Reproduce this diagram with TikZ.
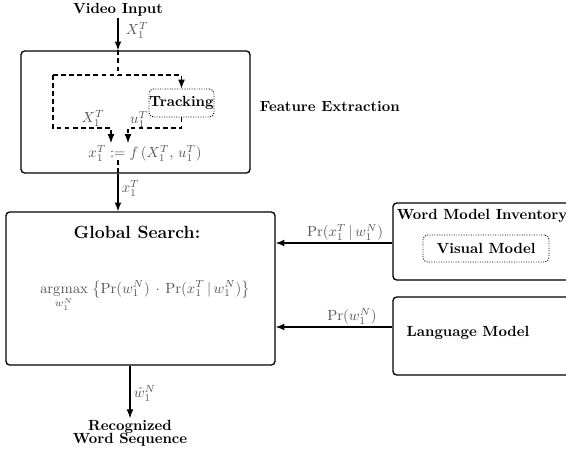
\documentclass[tikz,border=0pt]{standalone}
\usetikzlibrary{arrows.meta,calc}
\definecolor{mathgray}{gray}{0.33}
\def\pxu{0.68pt}
\begin{document}
\begin{tikzpicture}[x=\pxu,y=-\pxu,
  box/.style={draw,rounded corners=2.5pt,line width=0.9pt,inner sep=0pt},
  subbox/.style={draw,densely dotted,rounded corners=3pt,line width=0.65pt,inner sep=0pt,font=\bfseries},
  arr/.style={line width=0.75pt,-{Latex[length=6pt,width=4.6pt]}},
  dsh/.style={line width=0.75pt,dash pattern=on 3.2pt off 2.3pt},
  darr/.style={dsh,-{Latex[length=6pt,width=4.6pt]}},
  lbl/.style={text=mathgray,inner sep=1pt},
  title/.style={font=\bfseries,inner sep=1pt}]
\clip (0,0) rectangle (566,452);

% main blocks
\node[box,minimum width=229*\pxu,minimum height=122*\pxu] (feat) at (135.5,112) {};
\node[box,minimum width=269*\pxu,minimum height=153*\pxu] (gs) at (140.5,288.5) {};
\node[box,minimum width=187*\pxu,minimum height=77*\pxu] (wmi) at (486.5,241.5) {};
\node[box,minimum width=187*\pxu,minimum height=78*\pxu] (lm) at (486.5,336) {};

% inner components
\node[subbox,minimum width=65*\pxu,minimum height=28*\pxu] (track) at (181.5,103) {Tracking};
\node[subbox,minimum width=126*\pxu,minimum height=27*\pxu] (vis) at (486,248.5) {Visual Model};

% titles
\node[title] (vin) at (118,10) {Video Input};
\node[title,anchor=west] (fetitle) at (258,107) {Feature Extraction};
\node[title,font=\large\bfseries] (gstitle) at (137,232) {Global Search:};
\node[title] (wmititle) at (482,216) {Word Model Inventory};
\node[title] (lmtitle) at (468,333) {Language Model};
\node[title,align=center] (rec) at (130,433) {Recognized\\[-3.2pt]Word Sequence};

% formulas
\node[lbl] (fx) at (145,153) {$x_1^T := f\,(X_1^T,\, u_1^T)$};
\node[lbl] (argmax) at (145,296) {$\displaystyle\mathop{\mathrm{argmax}}\limits_{w_1^N}\;\bigl\{\Pr(w_1^N)\,\cdot\,\Pr(x_1^T\,|\,w_1^N)\bigr\}$};

% dashed routing inside feature extraction
\coordinate (dtop) at (118,75);
\coordinate (dleft) at (53,75);
\coordinate (dright) at (181.5,75);
\coordinate (dlb) at (53,128);
\coordinate (dxa) at (111,128);
\coordinate (dxe) at (111,143);
\coordinate (dtb) at (181.5,128);
\coordinate (dua) at (128,128);
\coordinate (due) at (128,143);
\coordinate (fxb) at (118,160);

\draw[arr] (vin.south -| dtop) -- (feat.north -| dtop);
\draw[dsh] (feat.north -| dtop) -- (dtop);
\draw[darr] (dleft) -- (dright) -- (track.north);
\draw[darr] (dleft) -- (dlb) -- (dxa) -- (dxe);
\draw[darr] (track.south) -- (dtb) -- (dua) -- (due);
\draw[dsh] (fxb) -- (feat.south -| fxb);
\draw[arr] (feat.south -| fxb) -- (gs.north -| fxb);

% probabilities into the search
\draw[arr] (wmi.west |- 0,243) -- (gs.east |- 0,243);
\draw[arr] (lm.west |- 0,327) -- (gs.east |- 0,327);

% output
\draw[arr] (gs.south -| rec) -- (rec.north);

% connector labels
\node[lbl,anchor=west] (lx) at (124,30) {$X_1^T$};
\node[lbl] (lxa) at (93,118) {$X_1^T$};
\node[lbl] (lua) at (139,119) {$u_1^T$};
\node[lbl,anchor=west] (lxo) at (120,188) {$x_1^T$};
\node[lbl] (lpx) at (345,232) {$\Pr(x_1^T\,|\,w_1^N)$};
\node[lbl] (lpw) at (352,316) {$\Pr(w_1^N)$};
\node[lbl,anchor=west] (lw) at (132,393) {$\hat{w}_1^N$};
\end{tikzpicture}
\end{document}
